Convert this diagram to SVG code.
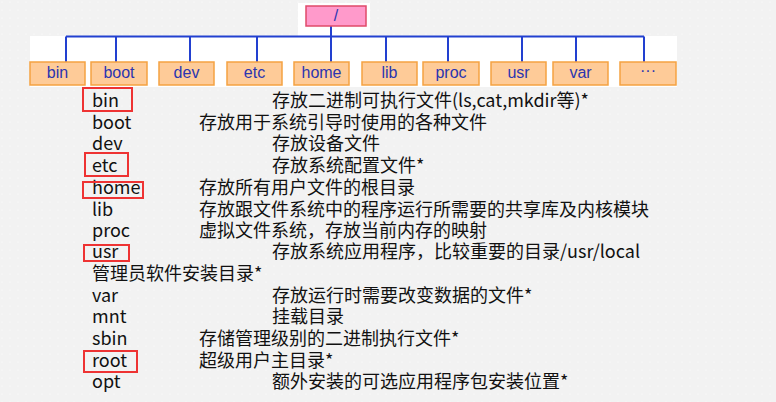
<svg xmlns="http://www.w3.org/2000/svg" width="776" height="402" viewBox="0 0 776 402">
<defs>
<pattern id="dots" width="8" height="8" patternUnits="userSpaceOnUse">
<rect width="8" height="8" fill="#f2f2f2"/>
<circle cx="2" cy="2" r="0.6" fill="#ffffff"/>
</pattern>
</defs>
<style>
.dir{fill:#fecb98;stroke:#f5a242;stroke-width:1.5}
.dt{font-family:"Liberation Sans",Arial,sans-serif;font-size:16px;fill:#2b35b0;text-anchor:middle}
.ln{stroke:#2240d0;stroke-width:2;fill:none}
.t{font-family:"Noto Sans CJK SC","Noto Sans",sans-serif;font-size:18px;fill:#111}
.hl{fill:none;stroke:#ee3333;stroke-width:2}
</style>
<rect width="776" height="402" fill="url(#dots)"/>
<rect x="30" y="36" width="647" height="51" fill="#ffffff"/>
<rect x="298" y="3" width="72" height="34" fill="#ffffff"/>
<g id="connectors">
<path class="ln" d="M331 26V36.5M66 36.5H644M66 36.5V62M116 36.5V62M190 36.5V62M257 36.5V62M331 36.5V62M386 36.5V62M448 36.5V62M522 36.5V62M576 36.5V62M644 36.5V62"/>
</g>
<g id="root"><rect x="306" y="6" width="60" height="20" fill="#ff9acb" stroke="#e04a6a" stroke-width="1.5"/><text class="dt" x="336" y="21">/</text></g>
<g id="bin"><rect class="dir" x="30" y="62" width="55" height="23"/><text class="dt" x="57.5" y="78">bin</text></g>
<g id="boot"><rect class="dir" x="91" y="62" width="56" height="23"/><text class="dt" x="119" y="78">boot</text></g>
<g id="dev"><rect class="dir" x="159" y="62" width="55" height="23"/><text class="dt" x="186.5" y="78">dev</text></g>
<g id="etc"><rect class="dir" x="227" y="62" width="55" height="23"/><text class="dt" x="254.5" y="78">etc</text></g>
<g id="home"><rect class="dir" x="294" y="62" width="55" height="23"/><text class="dt" x="321.5" y="78">home</text></g>
<g id="lib"><rect class="dir" x="362" y="62" width="55" height="23"/><text class="dt" x="389.5" y="78">lib</text></g>
<g id="proc"><rect class="dir" x="423" y="62" width="56" height="23"/><text class="dt" x="451" y="78">proc</text></g>
<g id="usr"><rect class="dir" x="491" y="62" width="55" height="23"/><text class="dt" x="518.5" y="78">usr</text></g>
<g id="var"><rect class="dir" x="553" y="62" width="55" height="23"/><text class="dt" x="580.5" y="78">var</text></g>
<g id="more"><rect class="dir" x="620" y="62" width="56" height="23"/><text class="dt" x="648" y="76">···</text></g>
<g id="list">
<text class="t" x="92" y="107">bin</text><text class="t" x="272" y="107">存放二进制可执行文件(ls,cat,mkdir等)*</text>
<text class="t" x="92" y="129">boot</text><text class="t" x="199" y="129">存放用于系统引导时使用的各种文件</text>
<text class="t" x="92" y="150">dev</text><text class="t" x="272" y="150">存放设备文件</text>
<text class="t" x="92" y="172">etc</text><text class="t" x="272" y="172">存放系统配置文件*</text>
<text class="t" x="92" y="194">home</text><text class="t" x="199" y="194">存放所有用户文件的根目录</text>
<text class="t" x="92" y="216">lib</text><text class="t" x="199" y="216">存放跟文件系统中的程序运行所需要的共享库及内核模块</text>
<text class="t" x="92" y="237">proc</text><text class="t" x="199" y="237">虚拟文件系统，存放当前内存的映射</text>
<text class="t" x="92" y="258">usr</text><text class="t" x="272" y="258">存放系统应用程序，比较重要的目录/usr/local</text>
<text class="t" x="92" y="280">管理员软件安装目录*</text>
<text class="t" x="92" y="302">var</text><text class="t" x="272" y="302">存放运行时需要改变数据的文件*</text>
<text class="t" x="92" y="323">mnt</text><text class="t" x="272" y="323">挂载目录</text>
<text class="t" x="92" y="345">sbin</text><text class="t" x="199" y="345">存储管理级别的二进制执行文件*</text>
<text class="t" x="92" y="367">root</text><text class="t" x="199" y="367">超级用户主目录*</text>
<text class="t" x="92" y="388">opt</text><text class="t" x="272" y="388">额外安装的可选应用程序包安装位置*</text>
</g>
<g id="highlights">
<rect class="hl" x="83" y="88" width="49" height="23"/>
<rect class="hl" x="85" y="153" width="43" height="23"/>
<rect class="hl" x="83" y="182" width="60" height="16"/>
<rect class="hl" x="84" y="245" width="45" height="16"/>
<rect class="hl" x="84" y="351" width="53" height="21"/>
</g>
</svg>
